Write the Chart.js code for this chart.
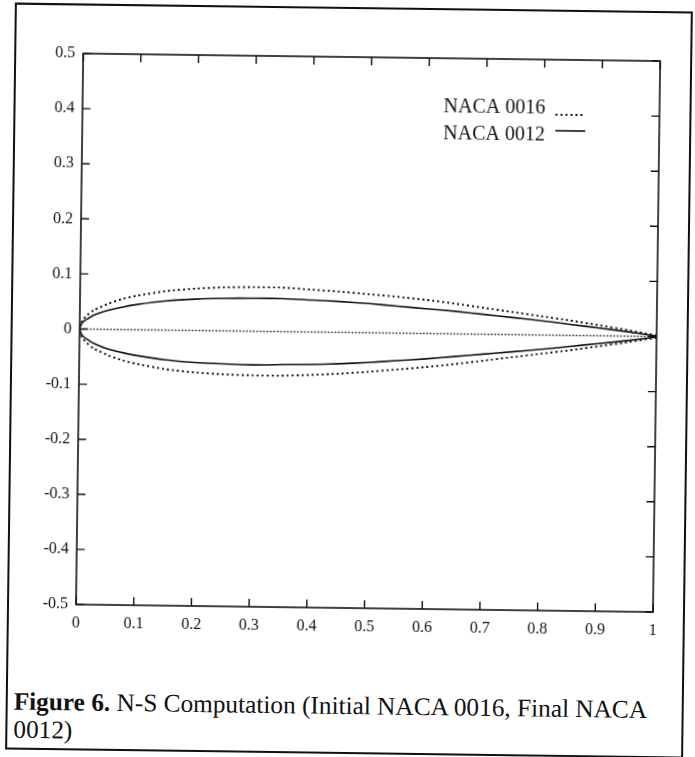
<!DOCTYPE html>
<html>
<head>
<meta charset="utf-8">
<script src="https://cdn.jsdelivr.net/npm/chart.js@4.4.1/dist/chart.umd.min.js"></script>
<style>
  html, body { margin: 0; padding: 0; background: #fff; }
  #page { position: relative; width: 695px; height: 757px; transform: rotate(0.75deg); transform-origin: 50% 50%; }
  #frame { position: absolute; left: 10px; top: 7px; width: 674px; height: 743px; border: 2px solid #111; }
  #box { position: absolute; left: 0; top: 0; width: 695px; height: 660px; }
  #caption { position: absolute; left: 18px; top: 691px; font-family: "Liberation Serif", serif; font-size: 22px; line-height: 28px; color: #111; white-space: nowrap; }
  #caption b { font-weight: bold; }
</style>
</head>
<body>
<div id="page">
  <div id="frame"></div>
  <div id="box"><canvas id="airfoil-chart"></canvas></div>
  <div id="caption"><span id="line1"><b>Figure 6.</b> N-S Computation (Initial NACA 0016, Final NACA</span><br>0012)</div>
</div>
<script>
/* posiciones a lo largo de la cuerda */
const chordX = [0, 0.005, 0.0125, 0.025, 0.05, 0.075, 0.1, 0.15, 0.2, 0.25, 0.3, 0.35, 0.4, 0.45, 0.5, 0.55, 0.6, 0.65, 0.7, 0.75, 0.8, 0.85, 0.9, 0.95, 1]

/* perfil inicial NACA 0016 (punteado) */
const upper0016 = [0, 0.016, 0.025, 0.035, 0.047, 0.056, 0.062, 0.071, 0.076, 0.079, 0.080, 0.080, 0.077, 0.074, 0.070, 0.066, 0.061, 0.055, 0.048, 0.041, 0.034, 0.027, 0.019, 0.011, 0.002]
const lower0016 = [0, -0.016, -0.025, -0.035, -0.047, -0.056, -0.062, -0.071, -0.076, -0.079, -0.080, -0.080, -0.078, -0.075, -0.071, -0.066, -0.061, -0.055, -0.048, -0.041, -0.034, -0.027, -0.019, -0.011, -0.002]

/* perfil final NACA 0012 (linea continua) */
const upper0012 = [0, 0.012, 0.018, 0.026, 0.035, 0.041, 0.046, 0.053, 0.057, 0.059, 0.060, 0.060, 0.058, 0.056, 0.053, 0.049, 0.045, 0.041, 0.036, 0.031, 0.026, 0.020, 0.014, 0.008, 0.001]
const lower0012 = [0, -0.012, -0.018, -0.026, -0.036, -0.042, -0.047, -0.054, -0.058, -0.060, -0.061, -0.060, -0.059, -0.057, -0.054, -0.050, -0.046, -0.041, -0.036, -0.031, -0.026, -0.020, -0.014, -0.008, -0.001]

/* linea de cuerda */
const lineX = [0, 1]
const lineY = [0, 0]

/* ticks de los ejes */
const xTicks = [0, 0.1, 0.2, 0.3, 0.4, 0.5, 0.6, 0.7, 0.8, 0.9, 1]
const yTicks = [-0.5, -0.4, -0.3, -0.2, -0.1, 0, 0.1, 0.2, 0.3, 0.4, 0.5]

/* recorre el extrados de atras hacia adelante y luego el intrados */
function closedProfile(up, low) {
    const pts = []
    for (let i = chordX.length - 1; i >= 0; i--) pts.push({ x: chordX[i], y: up[i] })
    for (let i = 1; i < chordX.length; i++) pts.push({ x: chordX[i], y: low[i] })
    return pts
}

const ink = "#121212"
Chart.defaults.font.family = "'Liberation Serif', 'Times New Roman', serif"
Chart.defaults.color = ink

/* marco con ticks hacia adentro y leyenda estilo gnuplot */
const frameTicks = {
    id: "frameTicks",
    afterDatasetsDraw(chart) {
        const { ctx, chartArea: a, scales } = chart
        ctx.save()
        ctx.strokeStyle = ink
        ctx.lineWidth = 1.6
        ctx.setLineDash([])
        ctx.strokeRect(a.left, a.top, a.width, a.height)
        ctx.lineWidth = 1.4
        ctx.beginPath()
        xTicks.forEach(v => {
            const px = scales.x.getPixelForValue(v)
            ctx.moveTo(px, a.bottom); ctx.lineTo(px, a.bottom - 8)
            ctx.moveTo(px, a.top); ctx.lineTo(px, a.top + 8)
        })
        yTicks.forEach(v => {
            const py = scales.y.getPixelForValue(v)
            ctx.moveTo(a.left, py); ctx.lineTo(a.left + 8, py)
            ctx.moveTo(a.right, py); ctx.lineTo(a.right - 8, py)
        })
        ctx.stroke()

        /* leyenda */
        ctx.font = "20px 'Liberation Serif', serif"
        ctx.fillStyle = ink
        ctx.textBaseline = "middle"
        ctx.textAlign = "left"
        const rows = chart.data.datasets.filter(d => d.label)
        rows.forEach((d, i) => {
            const ty = 106 + i * 27
            ctx.fillText(d.label, 440, ty)
            ctx.strokeStyle = d.borderColor
            ctx.lineWidth = d.borderWidth
            ctx.setLineDash(d.borderDash || [])
            const sy = i === 0 ? ty + 6 : ty - 5
            ctx.beginPath()
            ctx.moveTo(552, sy); ctx.lineTo(582, sy)
            ctx.stroke()
        })
        ctx.restore()
    }
}

const tickLabel = v => String(Math.round(v * 10) / 10)

const containerAirfoil = document.querySelector("#airfoil-chart").getContext("2d")

const airfoilChart = new Chart(containerAirfoil, {
    type: "scatter",
    data: {
        datasets: [
            {
                label: "NACA 0016",
                data: closedProfile(upper0016, lower0016),
                showLine: true,
                borderColor: ink,
                borderWidth: 1.9,
                borderDash: [2, 3],
                pointRadius: 0,
                tension: 0.2,
            },
            {
                label: "NACA 0012",
                data: closedProfile(upper0012, lower0012),
                showLine: true,
                borderColor: ink,
                borderWidth: 1.6,
                pointRadius: 0,
                tension: 0.2,
            },
            {
                label: "",
                data: lineX.map((x, i) => ({ x: x, y: lineY[i] })),
                showLine: true,
                borderColor: ink,
                borderWidth: 1.7,
                borderDash: [1.5, 1.9],
                pointRadius: 0,
            },
        ]
    },
    options: {
        responsive: true,
        maintainAspectRatio: false,
        animation: false,
        layout: { padding: { left: 0, top: 57, right: 39, bottom: 0 } },
        plugins: { legend: { display: false }, tooltip: { enabled: false } },
        scales: {
            x: {
                type: "linear",
                min: 0,
                max: 1,
                afterBuildTicks: s => { s.ticks = xTicks.map(v => ({ value: v })) },
                afterFit: s => { s.height = 52 },
                ticks: { padding: 9, font: { size: 16 }, color: ink, callback: tickLabel },
                grid: { display: false, drawTicks: false },
                border: { display: false },
            },
            y: {
                type: "linear",
                min: -0.5,
                max: 0.5,
                afterBuildTicks: s => { s.ticks = yTicks.map(v => ({ value: v })) },
                afterFit: s => { s.width = 79 },
                ticks: { padding: 8, font: { size: 16 }, color: ink, callback: tickLabel },
                grid: { display: false, drawTicks: false },
                border: { display: false },
            },
        }
    },
    plugins: [frameTicks],
})

/* ajusta el pie de figura al ancho del original */
const line1 = document.querySelector("#line1")
const caption = document.querySelector("#caption")
const w = line1.getBoundingClientRect().width
caption.style.fontSize = (22 * 634 / w).toFixed(2) + "px"
</script>
</body>
</html>
